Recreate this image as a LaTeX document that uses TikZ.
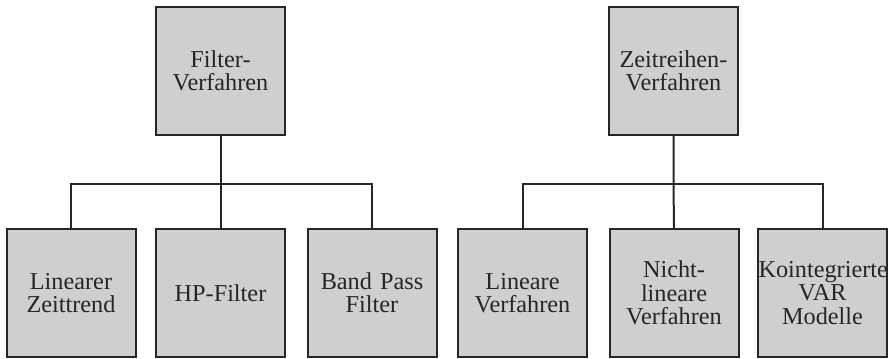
\documentclass[tikz,border=0pt]{standalone}
\usepackage{fontspec}
\setmainfont{Liberation Serif}
\definecolor{boxgray}{RGB}{209,206,209}
\begin{document}
\begin{tikzpicture}[x=0.75pt,y=-0.75pt,line width=1.5pt,
  every node/.style={font=\fontsize{18.2}{17.5}\selectfont,text=black!85},
  verfbox/.style={draw=black!85,fill=boxgray,minimum width=96.75pt,minimum height=96pt,
    text width=96pt,inner sep=0pt,align=center}]
\useasboundingbox (0,0) rectangle (889,358);
% Oberste Ebene
\node[verfbox] (filter) at (220.5,71) {Filter-\\Verfahren};
\node[verfbox] (zeitr) at (673.5,71) {Zeitreihen-\\Verfahren};
% Unterste Ebene
\node[verfbox] (lintrend) at (71,293) {Linearer\\Zeittrend};
\node[verfbox] (hp) at (220.5,293) {HP-Filter};
\node[verfbox] (band) at (372,293) {Band Pass\\Filter};
\node[verfbox] (linv) at (522.5,293) {Lineare\\Verfahren};
\node[verfbox] (nichtlin) at (674,293) {Nicht-\\lineare\\Verfahren};
\node[verfbox] (koint) at (822.5,293) {Kointegrierte\\VAR\\Modelle};
\coordinate (fbar) at (220.5,184);
\coordinate (zbar) at (673.5,184);
\draw[draw=black!85] (lintrend.north) |- (fbar) -| (band.north);
\draw[draw=black!85] (filter.south) -- (fbar) -- (hp.north);
\draw[draw=black!85] (linv.north) |- (zbar) -| (koint.north);
\draw[draw=black!85] (zeitr.south) -- (zbar) -- (nichtlin.north);
\end{tikzpicture}
\end{document}
